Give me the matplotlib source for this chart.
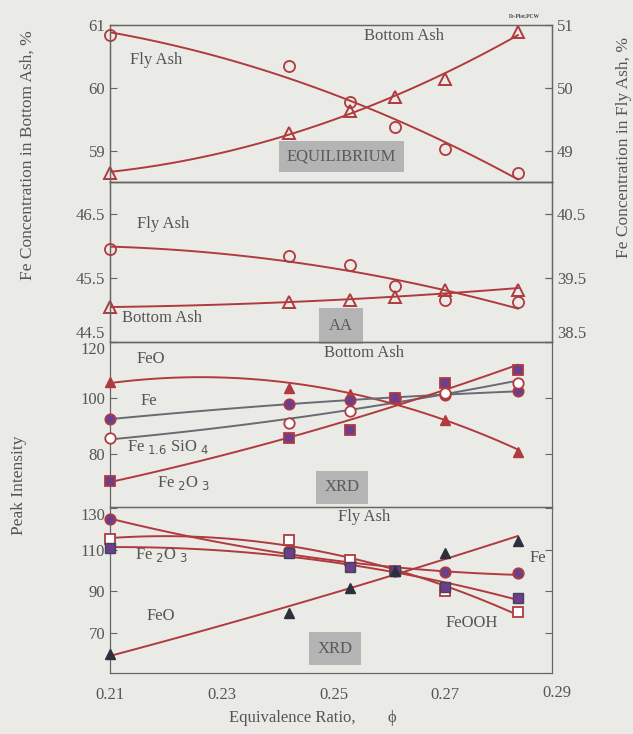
#!/usr/bin/env python3
"""
Fe distribution vs equivalence ratio - four stacked panels
"""

import matplotlib
matplotlib.use('Agg')
import matplotlib.pyplot as plt
import numpy as np

# equivalence ratio (shared x)
phi = [0.210, 0.242, 0.253, 0.261, 0.270, 0.283]

# panel 1 - equilibrium
eq_bottom = [58.65, 59.28, 59.63, 59.86, 60.14, 60.89]   # left axis
eq_fly = [50.84, 50.35, 49.77, 49.37, 49.02, 48.65]      # right axis

# panel 2 - AA
aa_bottom = [45.05, 45.12, 45.15, 45.20, 45.31, 45.32]   # left axis
aa_fly = [39.96, 39.85, 39.70, 39.37, 39.15, 39.13]      # right axis

# panel 3 - XRD bottom ash
ba_feo = [105.7, 103.6, 101.5, 100.0, 92.1, 80.8]
ba_fe = [92.4, 97.8, 99.4, 100.0, 101.2, 102.4]
ba_fesio = [85.5, 91.2, 95.4, 100.0, 101.8, 105.5]
ba_fe2o3 = [70.3, 85.5, 88.5, 100.0, 105.5, 110.1]

# panel 4 - XRD fly ash
fa_fe = [124.6, 109.5, 103.9, 99.8, 99.4, 98.6]
fa_feooh = [115.0, 114.6, 105.0, 100.0, 90.3, 80.2]
fa_fe2o3 = [110.9, 108.2, 101.8, 100.0, 92.0, 87.0]
fa_feo = [59.8, 79.5, 91.5, 100.0, 108.5, 114.3]

x_ticks = [0.21, 0.23, 0.25, 0.27]

BG = '#eaebe6'
RED = '#b03a3e'
PURPLE = '#6b3f8c'
GRAY_LINE = '#6a6a72'
TXT = '#555555'

plt.rcParams['font.family'] = ['Liberation Serif', 'DejaVu Serif']
plt.rcParams['font.size'] = 12


def fit_curve(x, y, deg=2):
    c = np.polyfit(x, y, deg)
    xs = np.linspace(min(x), max(x), 100)
    return xs, np.polyval(c, xs)


def style_axis(ax):
    ax.set_facecolor('none')
    for s in ax.spines.values():
        s.set_color('#666666')
        s.set_linewidth(0.9)
    ax.tick_params(direction='in', colors='#666666', labelcolor=TXT,
                   labelsize=12, length=5, width=0.8)


def draw_series(ax, y, line_color, **mk):
    xs, ys = fit_curve(phi, y)
    ax.plot(xs, ys, color=line_color, lw=1.4, zorder=2)
    ax.plot(phi, y, ls='none', zorder=3, clip_on=False, **mk)


def box_label(ax, x, y, s, pad=0.5):
    ax.text(x, y, s, ha='center', va='center', color='#5a5a5a', fontsize=12,
            bbox=dict(boxstyle=f'square,pad={pad}', fc='#b4b4b4', ec='none'))


fig = plt.figure(figsize=(6.33, 7.34), dpi=100)
fig.patch.set_facecolor(BG)

L = 110 / 633
W = (552 - 110) / 633
H = 734.0


def add_panel(top, bottom):
    return fig.add_axes([L, 1 - bottom / H, W, (bottom - top) / H])


ax1 = add_panel(25, 182)
ax2 = add_panel(182, 342)
ax3 = add_panel(342, 507)
ax4 = add_panel(507, 673)

open_tri = dict(marker='^', ms=8, mfc='none', mec=RED, mew=1.4)
open_circ = dict(marker='o', ms=8, mfc='none', mec=RED, mew=1.3)

# ---- panel 1 equilibrium
ax1r = ax1.twinx()
draw_series(ax1, eq_bottom, RED, **open_tri)
draw_series(ax1r, eq_fly, RED, **open_circ)
ax1.set_ylim(58.5, 61)
ax1r.set_ylim(48.5, 51)
ax1.set_yticks([59, 60, 61])
ax1r.set_yticks([49, 50, 51])
ax1.text(0.2136, 60.44, 'Fly Ash', color=TXT, va='center')
ax1.text(0.2555, 60.82, 'Bottom Ash', color=TXT, va='center')
box_label(ax1, 0.2514, 58.9, 'EQUILIBRIUM', pad=0.45)
fig.text(509 / 633, 1 - 16 / H, 'Fe-Plot.PCW', fontsize=4, fontweight='bold',
         color='#444444', va='center')

# ---- panel 2 AA
ax2r = ax2.twinx()
draw_series(ax2, aa_bottom, RED, **open_tri)
draw_series(ax2r, aa_fly, RED, **open_circ)
ax2.set_ylim(44.5, 47)
ax2r.set_ylim(38.5, 41)
ax2.set_yticks([44.5, 45.5, 46.5])
ax2r.set_yticks([38.5, 39.5, 40.5])
ax2.get_yticklabels()[0].set_va('bottom')
ax2r.get_yticklabels()[0].set_va('bottom')
ax2.text(0.2148, 46.35, 'Fly Ash', color=TXT, va='center')
ax2.text(0.2121, 44.88, 'Bottom Ash', color=TXT, va='center')
box_label(ax2, 0.2513, 44.75, 'AA', pad=0.6)

# ---- panel 3 XRD bottom ash
draw_series(ax3, ba_feo, RED, marker='^', ms=7.5, mfc=RED, mec=RED)
draw_series(ax3, ba_fe, GRAY_LINE, marker='o', ms=7.5, mfc=PURPLE, mec=RED, mew=1.2)
draw_series(ax3, ba_fesio, GRAY_LINE, marker='o', ms=7.5, mfc='white', mec=RED, mew=1.3)
draw_series(ax3, ba_fe2o3, RED, marker='s', ms=7, mfc=PURPLE, mec=RED, mew=1.3)
ax3.set_ylim(61, 120)
ax3.set_yticks([80, 100, 120])
ax3.get_yticklabels()[-1].set_va('top')
ax3.text(0.2148, 114, 'FeO', color=TXT, va='center')
ax3.text(0.2555, 116, 'Bottom Ash', color=TXT, va='center', ha='center')
ax3.text(0.2155, 99, 'Fe', color=TXT, va='center')
ax3.text(0.2130, 82.5, r'Fe$_{\ 1.6}$ SiO$_{\ 4}$', color=TXT, va='center')
ax3.text(0.2185, 69.5, r'Fe$_{\ 2}$O$_{\ 3}$', color=TXT, va='center')
box_label(ax3, 0.2515, 68, 'XRD', pad=0.5)

# ---- panel 4 XRD fly ash
draw_series(ax4, fa_fe, RED, marker='o', ms=7.5, mfc=PURPLE, mec=RED, mew=1.3)
draw_series(ax4, fa_feooh, RED, marker='s', ms=7, mfc='white', mec=RED, mew=1.3)
draw_series(ax4, fa_fe2o3, RED, marker='s', ms=7, mfc=PURPLE, mec='#444455', mew=1.0)
draw_series(ax4, fa_feo, RED, marker='^', ms=7.5, mfc='#2e2e3c', mec='#2e2e3c')
ax4.set_ylim(50.8, 130.5)
ax4.set_yticks([70, 90, 110, 130])
ax4.get_yticklabels()[-1].set_va('top')
ax4.text(0.2555, 125.5, 'Fly Ash', color=TXT, va='center', ha='center')
ax4.text(0.2145, 107.5, r'Fe$_{\ 2}$O$_{\ 3}$', color=TXT, va='center')
ax4.text(0.2850, 106, 'Fe', color=TXT, va='center')
ax4.text(0.2165, 78, 'FeO', color=TXT, va='center')
ax4.text(0.2700, 75, 'FeOOH', color=TXT, va='center')
box_label(ax4, 0.2503, 62.5, 'XRD', pad=0.5)

for ax in [ax1, ax2, ax3, ax4]:
    ax.set_xlim(0.21, 0.2891)
    ax.set_xticks(x_ticks)
    style_axis(ax)
    ax.tick_params(axis='y', right=True)
    if ax is not ax4:
        ax.tick_params(axis='x', bottom=False, labelbottom=False)
for ax in [ax1r, ax2r]:
    style_axis(ax)
    ax.tick_params(axis='y', left=False)
    ax.set_xlim(0.21, 0.2891)

ax4.set_xticklabels(['0.21', '0.23', '0.25', '0.27'])
ax4.tick_params(axis='x', pad=10, bottom=False)
ax4.text(0.29, -0.075, '0.29', transform=ax4.get_xaxis_transform(),
         ha='center', va='top', color=TXT, fontsize=12, clip_on=False)

# axis titles
fig.text(28 / 633, 1 - 155 / H, 'Fe Concentration in Bottom Ash, %', rotation=90,
         ha='center', va='center', color=TXT, fontsize=12.5)
fig.text(19 / 633, 1 - 485 / H, 'Peak Intensity', rotation=90,
         ha='center', va='center', color=TXT, fontsize=12.5)
fig.text(624 / 633, 1 - 148 / H, 'Fe Concentration in Fly Ash, %', rotation=90,
         ha='center', va='center', color=TXT, fontsize=12.5)
fig.text(292 / 633, 1 - 718 / H, 'Equivalence Ratio,', ha='center', va='center',
         color=TXT, fontsize=12)
fig.text(392 / 633, 1 - 718 / H, 'ϕ', ha='center', va='center',
         color=TXT, fontsize=12)

fig.savefig('out.png', dpi=100, facecolor=BG)
